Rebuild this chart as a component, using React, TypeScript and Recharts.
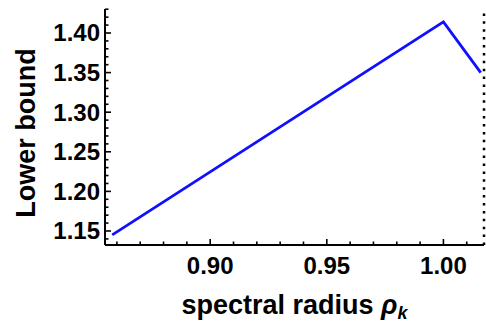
import React from 'react';
import { LineChart, Line, XAxis, YAxis, ReferenceLine } from 'recharts';

const rho = [0.858, 1.0, 1.016];
const lowerBound = [1.145, 1.414, 1.35];

const xDomain = [0.8549, 1.0174];
const yDomain = [1.1323, 1.4303];
const xTicks = [0.86, 0.87, 0.88, 0.89, 0.9, 0.91, 0.92, 0.93, 0.94, 0.95, 0.96, 0.97, 0.98, 0.99, 1.0, 1.01];
const yTicks = [1.14, 1.15, 1.16, 1.17, 1.18, 1.19, 1.2, 1.21, 1.22, 1.23, 1.24, 1.25, 1.26, 1.27, 1.28, 1.29, 1.3, 1.31, 1.32, 1.33, 1.34, 1.35, 1.36, 1.37, 1.38, 1.39, 1.4, 1.41, 1.42, 1.43];

const data = rho.map((r, i) => ({ r, v: lowerBound[i] }));

const FONT = '"Liberation Sans", Arial, sans-serif';
const TICK_FS = 24;
const LABEL_FS = 27;

const isMajor = (v: number) => Math.abs(v * 20 - Math.round(v * 20)) < 1e-6;

const BottomTick = (props: any) => {
  const { x, y, payload } = props;
  const major = isMajor(payload.value);
  return (
    <g>
      <line x1={x} x2={x} y1={y} y2={y - (major ? 6 : 3.5)} stroke="#000" strokeWidth={1.6} />
      {major && (
        <text x={x} y={y + 29} textAnchor="middle" fontFamily={FONT} fontWeight="bold" fontSize={TICK_FS} fill="#000">
          {payload.value.toFixed(2)}
        </text>
      )}
    </g>
  );
};

const TopTick = (props: any) => {
  const { x, y, payload } = props;
  const major = isMajor(payload.value);
  return <line x1={x} x2={x} y1={y} y2={y + (major ? 6 : 3.5)} stroke="#000" strokeWidth={1.6} />;
};

const LeftTick = (props: any) => {
  const { x, y, payload } = props;
  const major = isMajor(payload.value);
  return (
    <g>
      <line x1={x} x2={x + (major ? 6 : 3.5)} y1={y} y2={y} stroke="#000" strokeWidth={1.6} />
      {major && (
        <text x={x - 5} y={y + 8.5} textAnchor="end" fontFamily={FONT} fontWeight="bold" fontSize={TICK_FS} fill="#000">
          {payload.value.toFixed(2)}
        </text>
      )}
    </g>
  );
};

const XLabel = (props: any) => {
  const vb = props.viewBox || {};
  const cx = vb.x + vb.width / 2;
  const by = vb.y + 69;
  return (
    <text x={cx} y={by} textAnchor="middle" fontFamily={FONT} fontWeight="bold" fontSize={LABEL_FS} fill="#000">
      spectral radius <tspan fontStyle="italic">ρ</tspan>
      <tspan fontStyle="italic" fontSize={18} dy={5}>k</tspan>
    </text>
  );
};

const YLabel = (props: any) => {
  const vb = props.viewBox || {};
  const cy = vb.y + vb.height / 2 + 6;
  const bx = 35;
  return (
    <text
      x={bx}
      y={cy}
      transform={`rotate(-90 ${bx} ${cy})`}
      textAnchor="middle"
      fontFamily={FONT}
      fontWeight="bold"
      fontSize={LABEL_FS}
      fill="#000"
    >
      Lower bound
    </text>
  );
};

export default function App() {
  return (
    <div style={{ position: 'absolute', left: 0, top: 0, width: 486, height: 322, background: '#fff' }}>
      <LineChart width={486} height={322} data={data} margin={{ top: 9, right: 2, bottom: 0, left: 0 }}>
        <XAxis
          xAxisId="b"
          dataKey="r"
          type="number"
          domain={xDomain}
          ticks={xTicks}
          interval={0}
          height={77}
          tickSize={0}
          tickMargin={0}
          axisLine={{ stroke: '#000', strokeWidth: 2 }}
          tickLine={false}
          tick={<BottomTick />}
          allowDataOverflow
          label={<XLabel />}
        />
        <XAxis
          xAxisId="t"
          dataKey="r"
          type="number"
          orientation="top"
          domain={xDomain}
          ticks={xTicks}
          interval={0}
          height={0}
          tickSize={0}
          tickMargin={0}
          axisLine={{ stroke: '#000', strokeWidth: 2 }}
          tickLine={false}
          tick={<TopTick />}
          allowDataOverflow
        />
        <YAxis
          yAxisId="l"
          type="number"
          domain={yDomain}
          ticks={yTicks}
          interval={0}
          width={105}
          tickSize={0}
          tickMargin={0}
          axisLine={{ stroke: '#000', strokeWidth: 2 }}
          tickLine={false}
          tick={<LeftTick />}
          allowDataOverflow
          label={<YLabel />}
        />
        <ReferenceLine
          xAxisId="b"
          yAxisId="l"
          x={xDomain[1]}
          stroke="#000"
          strokeWidth={2.5}
          strokeDasharray="2.5 5.4"
          ifOverflow="visible"
        />
        <Line
          xAxisId="b"
          yAxisId="l"
          dataKey="v"
          type="linear"
          stroke="#1010ff"
          strokeWidth={2.8}
          dot={false}
          isAnimationActive={false}
        />
      </LineChart>
    </div>
  );
}
